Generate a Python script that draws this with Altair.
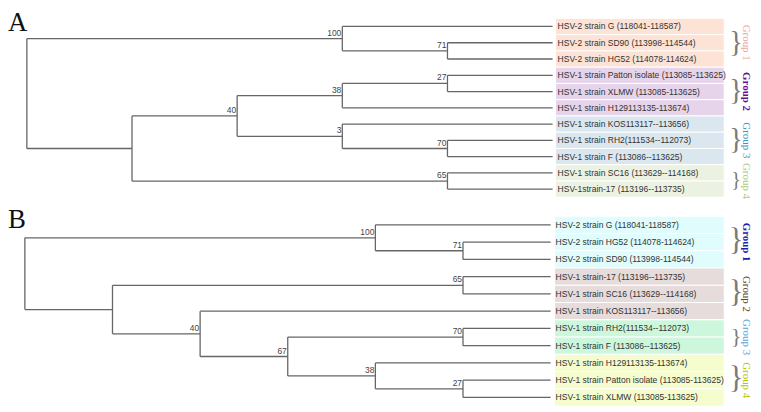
import altair as alt
import pandas as pd

# ---------------- data ----------------
LEAVES_A = [
    "HSV-2 strain G (118041-118587)",
    "HSV-2 strain SD90 (113998-114544)",
    "HSV-2 strain HG52 (114078-114624)",
    "HSV-1 strain Patton isolate (113085-113625)",
    "HSV-1 strain XLMW (113085-113625)",
    "HSV-1 strain H129113135-113674)",
    "HSV-1 strain KOS113117--113656)",
    "HSV-1 strain RH2(111534--112073)",
    "HSV-1 strain F (113086--113625)",
    "HSV-1 strain SC16 (113629--114168)",
    "HSV-1strain-17 (113196--113735)",
]
GROUPS_A = [1, 1, 1, 2, 2, 2, 3, 3, 3, 4, 4]
# node = (depth level, bootstrap support, children); leaf = index into LEAVES
TREE_A = (0, None, [
    (3, 100, [0, (4, 71, [1, 2])]),
    (1, None, [
        (2, 40, [
            (3, 38, [(4, 27, [3, 4]), 5]),
            (3, 3, [6, (4, 70, [7, 8])]),
        ]),
        (4, 65, [9, 10]),
    ]),
])
LEAF_LEVEL_A = 5

LEAVES_B = [
    "HSV-2 strain G (118041-118587)",
    "HSV-2 strain HG52 (114078-114624)",
    "HSV-2 strain SD90 (113998-114544)",
    "HSV-1 strain-17 (113196--113735)",
    "HSV-1 strain SC16 (113629--114168)",
    "HSV-1 strain KOS113117--113656)",
    "HSV-1 strain RH2(111534--112073)",
    "HSV-1 strain F (113086--113625)",
    "HSV-1 strain H129113135-113674)",
    "HSV-1 strain Patton isolate (113085-113625)",
    "HSV-1 strain XLMW (113085-113625)",
]
GROUPS_B = [1, 1, 1, 2, 2, 2, 3, 3, 4, 4, 4]
TREE_B = (0, None, [
    (4, 100, [0, (5, 71, [1, 2])]),
    (1, None, [
        (5, 65, [3, 4]),
        (2, 40, [
            5,
            (3, 67, [
                (5, 70, [6, 7]),
                (4, 38, [8, (5, 27, [9, 10])]),
            ]),
        ]),
    ]),
])
LEAF_LEVEL_B = 6

GROUP_NAMES = ["Group 1", "Group 2", "Group 3", "Group 4"]
BAND_COLORS_A = ["#fde3d5", "#e6d4eb", "#dbe7ef", "#ecf2e2"]
LABEL_COLORS_A = ["#f0a3a3", "#6a0d91", "#3b98c4", "#a9cc7a"]
LABEL_BOLD_A = [False, True, False, False]
BAND_COLORS_B = ["#e0fcfd", "#e6dcdc", "#cdf7dc", "#f5fccd"]
LABEL_COLORS_B = ["#1c1cb0", "#5b4632", "#54a6d8", "#b5c400"]
LABEL_BOLD_B = [True, False, False, False]

LINE_COLOR = "#666666"
LEAF_FONT = "Liberation Sans, Arial, sans-serif"


def walk(node, leaf_level, segs, sups):
    if isinstance(node, int):
        return float(node)
    level, sup, children = node
    ys = []
    for c in children:
        cy = walk(c, leaf_level, segs, sups)
        clevel = leaf_level if isinstance(c, int) else c[0]
        segs.append(dict(x=level, x2=clevel, y=cy, y2=cy))
        ys.append(cy)
    segs.append(dict(x=level, x2=level, y=min(ys), y2=max(ys)))
    y = (min(ys) + max(ys)) / 2
    if sup is not None:
        sups.append(dict(x=level, y=y, label=str(sup)))
    return y


def panel(letter, leaves, groups, tree, leaf_level, xrange, yrange, width, height,
          band_colors, label_colors, label_bold, brace_scale, letter_y,
          band_x=(552, 722), brace_x=734, label_x=744):
    segs, sups = [], []
    walk(tree, leaf_level, segs, sups)
    xs = alt.Scale(domain=[0, leaf_level], range=xrange, nice=False, zero=False)
    ys = alt.Scale(domain=[0, len(leaves) - 1], range=yrange, nice=False, zero=False)

    seg_df = pd.DataFrame(segs)
    sup_df = pd.DataFrame(sups)
    leaf_df = pd.DataFrame({
        "name": leaves,
        "idx": list(range(len(leaves))),
        "lvl": [leaf_level] * len(leaves),
        "y0": [i - 0.5 for i in range(len(leaves))],
        "y1": [i + 0.5 for i in range(len(leaves))],
        "fill": [band_colors[g - 1] for g in groups],
    })
    grp_rows = []
    for g in range(1, 5):
        idxs = [i for i, gg in enumerate(groups) if gg == g]
        grp_rows.append(dict(
            g=GROUP_NAMES[g - 1],
            yc=(min(idxs) + max(idxs)) / 2,
            n=len(idxs),
            fs=brace_scale * (len(idxs) + 0.5),
            col=label_colors[g - 1],
            bold=label_bold[g - 1],
        ))
    grp_df = pd.DataFrame(grp_rows)

    bands = alt.Chart(leaf_df).mark_rect(stroke="white", strokeWidth=1).encode(
        x=alt.value(band_x[0]), x2=alt.value(band_x[1]),
        y=alt.Y("y0:Q", scale=ys, axis=None), y2="y1:Q",
        color=alt.Color("fill:N", scale=None),
    )
    branches = alt.Chart(seg_df).mark_rule(color=LINE_COLOR, strokeWidth=1.3).encode(
        x=alt.X("x:Q", scale=xs, axis=None), x2="x2:Q",
        y=alt.Y("y:Q", scale=ys, axis=None), y2="y2:Q",
    )
    support = alt.Chart(sup_df).mark_text(
        align="right", baseline="bottom", dx=-1, dy=-1, fontSize=8.5,
        font=LEAF_FONT, color="#444444",
    ).encode(
        x=alt.X("x:Q", scale=xs, axis=None),
        y=alt.Y("y:Q", scale=ys, axis=None),
        text="label:N",
    )
    leaf_text = alt.Chart(leaf_df).mark_text(
        align="left", baseline="middle", dx=5, fontSize=8.6,
        font=LEAF_FONT, color="#333333",
    ).encode(
        x=alt.X("lvl:Q", scale=xs, axis=None),
        y=alt.Y("idx:Q", scale=ys, axis=None),
        text="name:N",
    )
    braces = alt.Chart(grp_df).mark_text(
        text="}", align="center", baseline="middle", font="Liberation Serif",
        color="#7a7a7a", dy=-1,
    ).encode(
        x=alt.value(brace_x),
        y=alt.Y("yc:Q", scale=ys, axis=None),
        size=alt.Size("fs:Q", scale=None),
    )
    glabels_n = alt.Chart(grp_df[~grp_df["bold"]]).mark_text(
        angle=90, align="center", baseline="middle", font="Liberation Serif",
        fontSize=11,
    ).encode(
        x=alt.value(label_x),
        y=alt.Y("yc:Q", scale=ys, axis=None),
        text="g:N",
        color=alt.Color("col:N", scale=None),
    )
    glabels_b = alt.Chart(grp_df[grp_df["bold"]]).mark_text(
        angle=90, align="center", baseline="middle", font="Liberation Serif",
        fontSize=11, fontWeight="bold",
    ).encode(
        x=alt.value(label_x),
        y=alt.Y("yc:Q", scale=ys, axis=None),
        text="g:N",
        color=alt.Color("col:N", scale=None),
    )
    letter_mark = alt.Chart(pd.DataFrame({"t": [letter]})).mark_text(
        align="left", baseline="alphabetic", font="Liberation Serif",
        fontSize=27, color="#111111",
    ).encode(x=alt.value(0), y=alt.value(letter_y), text="t:N")

    return alt.layer(bands, branches, support, leaf_text, braces,
                     glabels_n, glabels_b, letter_mark).properties(
        width=width, height=height)


panel_a = panel("A", LEAVES_A, GROUPS_A, TREE_A, LEAF_LEVEL_A,
                xrange=[19, 549], yrange=[17, 181], width=745, height=195,
                band_colors=BAND_COLORS_A, label_colors=LABEL_COLORS_A,
                label_bold=LABEL_BOLD_A, brace_scale=8.2, letter_y=22)
panel_b = panel("B", LEAVES_B, GROUPS_B, TREE_B, LEAF_LEVEL_B,
                xrange=[17, 547], yrange=[22, 196], width=745, height=205,
                band_colors=BAND_COLORS_B, label_colors=LABEL_COLORS_B,
                label_bold=LABEL_BOLD_B, brace_scale=8.8, letter_y=25,
                band_x=(551, 722))

chart = alt.vconcat(panel_a, panel_b, spacing=0).properties(
    padding={"left": 0, "top": 0, "right": 0, "bottom": 0},
    background="white",
).configure_view(stroke=None)

chart.save("out.html", embed_options={"renderer": "svg", "actions": False})
